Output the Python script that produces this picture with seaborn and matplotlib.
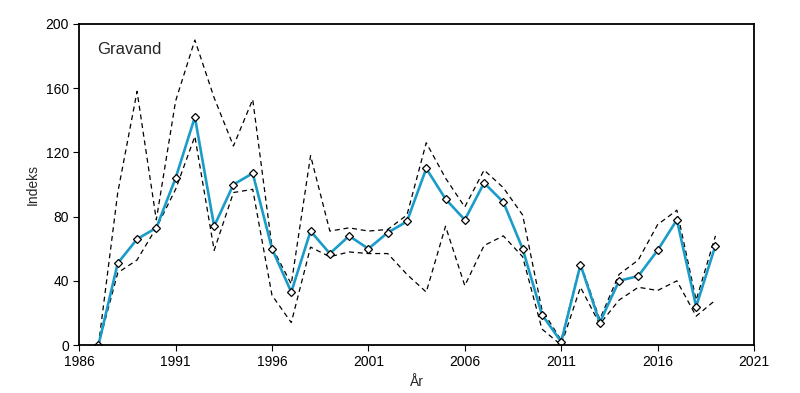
import numpy as np
import pandas as pd
import matplotlib
matplotlib.use("Agg")
import matplotlib.pyplot as plt
import seaborn as sns

years = list(range(1987, 2020))
indeks = [0, 51, 66, 73, 104, 142, 74, 100, 107, 60, 33, 71, 57, 68, 60, 70, 77, 110, 91, 78, 101, 89,
          60, 19, 2, 50, 14, 40, 43, 59, 78, 24, 62]
upper = [0, 95, 158, 78, 152, 190, 154, 124, 153, 61, 38, 118, 71, 73, 71, 72, 81, 126, 104, 86, 109, 98,
         81, 22, 3, 51, 16, 44, 53, 75, 84, 28, 68]
lower = [0, 45, 53, 73, 97, 130, 59, 95, 97, 31, 14, 61, 55, 58, 57, 57, 44, 33, 74, 37, 62, 68,
         55, 10, 0, 36, 13, 28, 36, 34, 40, 18, 28]

df = pd.DataFrame({"År": years, "Indeks": indeks, "upper": upper, "lower": lower})

sns.set_style("white")
plt.rcParams['font.family'] = ['Liberation Sans', 'DejaVu Sans']

fig = plt.figure(figsize=(8, 3.93), dpi=100)
ax = fig.add_axes([0.099, 0.122, 0.8435, 0.817])

# konfidensgrenser (stiplet)
sns.lineplot(data=df, x="År", y="upper", ax=ax, color="black", lw=0.9, linestyle=(0, (4, 3)))
sns.lineplot(data=df, x="År", y="lower", ax=ax, color="black", lw=0.9, linestyle=(0, (4, 3)))
sns.lineplot(data=df, x="År", y="Indeks", ax=ax, color="#1b9cc8", lw=1.9,
             marker="D", markersize=4.5, markerfacecolor="white", markeredgecolor="black",
             markeredgewidth=0.9)

ax.set_xlim(1986, 2021)
ax.set_ylim(0, 200)
ax.set_xticks(range(1986, 2022, 5))
ax.set_yticks(range(0, 201, 40))
ax.set_xlabel("År", fontsize=10)
ax.set_ylabel("Indeks", fontsize=10)
ax.tick_params(axis="both", direction="out", length=4, width=0.8, labelsize=10,
               bottom=True, left=True, colors="black")
for s in ax.spines.values():
    s.set_color("black")
    s.set_linewidth(1.3)

ax.text(0.026, 0.92, "Gravand", transform=ax.transAxes, fontsize=12, va="center")

fig.savefig("out.png", dpi=100)
